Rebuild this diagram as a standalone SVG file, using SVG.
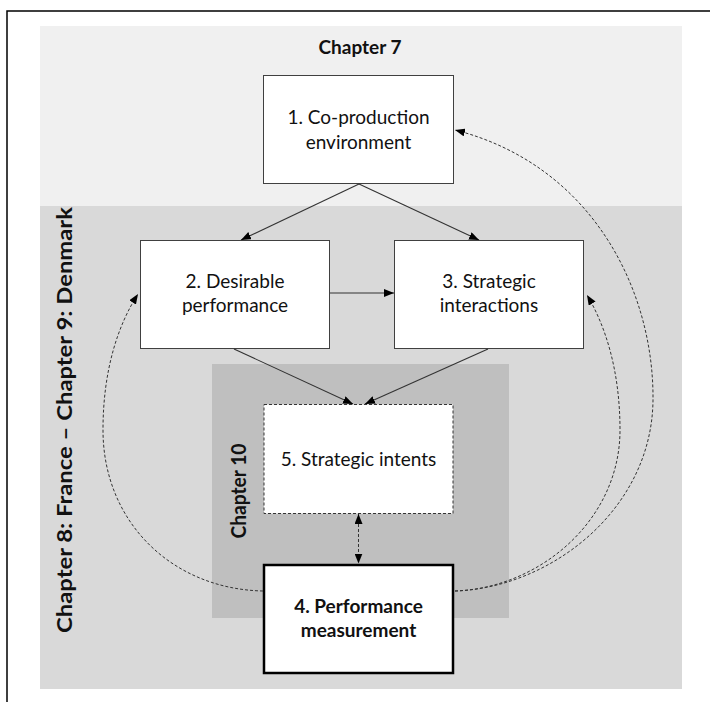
<svg xmlns="http://www.w3.org/2000/svg" width="710" height="702" viewBox="0 0 710 702">
<defs>
<style>
.box{fill:#fff;stroke:#404040;stroke-width:1}
.lbl{font-family:Lato,"Liberation Sans",sans-serif;font-size:19px;fill:#111;text-anchor:middle}
.b{font-weight:bold}
.vt{font-family:Lato,"Liberation Sans",sans-serif;font-weight:bold;fill:#111;text-anchor:middle}
.solid{fill:none;stroke:#333;stroke-width:1.1;marker-end:url(#ah)}
.dash{fill:none;stroke:#333;stroke-width:1;stroke-dasharray:3 2;marker-end:url(#ah)}
</style>
<marker id="ah" viewBox="0 0 10 8" refX="10" refY="4" markerWidth="10" markerHeight="8" markerUnits="userSpaceOnUse" orient="auto-start-reverse">
<path d="M0,0 L10,4 L0,8 Z" fill="#000"/>
</marker>
</defs>
<rect width="710" height="702" fill="#fff"/>
<path d="M7,702 V11 H710" fill="none" stroke="#000" stroke-width="1.5"/>
<g id="chapter7-panel">
<rect x="40" y="26" width="642" height="180" fill="#f0f0f0"/>
<text class="lbl b" x="360" y="54">Chapter 7</text>
</g>
<g id="chapter8-9-panel">
<rect x="40" y="206" width="642" height="483" fill="#d9d9d9"/>
<text class="vt" font-size="20" transform="translate(72,420) rotate(-90)" textLength="426" lengthAdjust="spacingAndGlyphs">Chapter 8: France – Chapter 9: Denmark</text>
</g>
<g id="chapter10-panel">
<rect x="212" y="364" width="297" height="254" fill="#bfbfbf"/>
<text class="vt" font-size="20.5" transform="translate(245.5,491) rotate(-90)" textLength="95" lengthAdjust="spacingAndGlyphs">Chapter 10</text>
</g>
<g id="n1">
<rect class="box" x="263.5" y="75.5" width="190" height="108"/>
<text class="lbl" x="358.5" y="124">1. Co-production</text>
<text class="lbl" x="358.5" y="148.5">environment</text>
</g>
<g id="n2">
<rect class="box" x="140.5" y="240.5" width="189" height="108"/>
<text class="lbl" x="235" y="288">2. Desirable</text>
<text class="lbl" x="235" y="312">performance</text>
</g>
<g id="n3">
<rect class="box" x="394.5" y="240.5" width="189" height="108"/>
<text class="lbl" x="489" y="288">3. Strategic</text>
<text class="lbl" x="489" y="312">interactions</text>
</g>
<g id="n5">
<rect x="264" y="404.5" width="189" height="109" fill="#fff" stroke="#333" stroke-width="1" stroke-dasharray="3 2"/>
<text class="lbl" x="358.5" y="466">5. Strategic intents</text>
</g>
<g id="n4">
<rect x="264" y="565" width="189" height="108" fill="#fff" stroke="#000" stroke-width="2.5"/>
<text class="lbl b" x="358.5" y="612.5">4. Performance</text>
<text class="lbl b" x="358.5" y="637">measurement</text>
</g>
<g id="connectors">
<path class="solid" d="M359,184 L241,240"/>
<path class="solid" d="M359,184 L479,240"/>
<path class="solid" d="M330,293 L394,293"/>
<path class="solid" d="M234,349 L353,404"/>
<path class="solid" d="M488,349 L365,404"/>
<path class="dash" d="M358.5,514 L358.5,563.5" style="marker-start:url(#ah)"/>
<path class="dash" d="M263,591 C172,589 103,522 103,430 C103,370 118,325 138,294"/>
<path class="dash" d="M455,591 C540,588 620,520 620,430 C620,370 605,325 587,295"/>
<path class="dash" d="M455,591 C550,588 652,510 653,400 C654,290 592,165 455,130"/>
</g>
</svg>
